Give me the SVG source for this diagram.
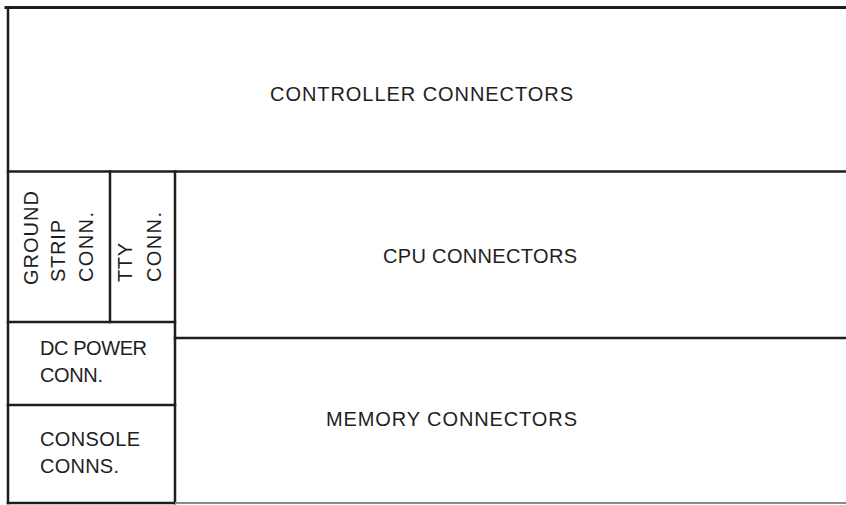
<svg xmlns="http://www.w3.org/2000/svg" width="846" height="505" viewBox="0 0 846 505">
<style>
.ln{stroke:#1e1e1e;stroke-width:2.5;fill:none;stroke-linecap:square}
.faint{stroke:#8a8a8a;stroke-width:2;fill:none}
.t{font-family:"Liberation Sans",Arial,sans-serif;font-size:20px;fill:#1e1e1e}
</style>
<rect width="846" height="505" fill="#ffffff"/>
<g id="controller">
<path class="ln" d="M6 7.5H846" style="stroke-width:3"/>
<path class="ln" d="M8 7.5V503"/>
<text class="t" x="270" y="101" textLength="303" lengthAdjust="spacing">CONTROLLER CONNECTORS</text>
</g>
<g id="cpu">
<path class="ln" d="M8 171.5H846"/>
<text class="t" x="383" y="263" textLength="194" lengthAdjust="spacing">CPU CONNECTORS</text>
</g>
<g id="ground-strip">
<path class="ln" d="M110 171.5V322"/>
<text class="t" transform="translate(38 285) rotate(-90)" textLength="94" lengthAdjust="spacing">GROUND</text>
<text class="t" transform="translate(65 282) rotate(-90)" textLength="62" lengthAdjust="spacing">STRIP</text>
<text class="t" transform="translate(93 282) rotate(-90)" textLength="70" lengthAdjust="spacing">CONN.</text>
</g>
<g id="tty">
<path class="ln" d="M175 171.5V503"/>
<text class="t" transform="translate(132 282) rotate(-90)" textLength="39" lengthAdjust="spacing">TTY</text>
<text class="t" transform="translate(161 282) rotate(-90)" textLength="70" lengthAdjust="spacing">CONN.</text>
</g>
<g id="dc-power">
<path class="ln" d="M8 322H175"/>
<text class="t" x="40" y="355" textLength="107" lengthAdjust="spacing">DC POWER</text>
<text class="t" x="40" y="382" textLength="63" lengthAdjust="spacing">CONN.</text>
</g>
<g id="memory">
<path class="ln" d="M175 338H846"/>
<text class="t" x="326" y="426" textLength="251" lengthAdjust="spacing">MEMORY CONNECTORS</text>
</g>
<g id="console">
<path class="ln" d="M8 405H175"/>
<path class="ln" d="M8 503H175"/>
<path class="faint" d="M175 503H846"/>
<text class="t" x="40" y="446" textLength="100" lengthAdjust="spacing">CONSOLE</text>
<text class="t" x="40" y="473" textLength="79" lengthAdjust="spacing">CONNS.</text>
</g>
<g id="connectors"></g>
</svg>
